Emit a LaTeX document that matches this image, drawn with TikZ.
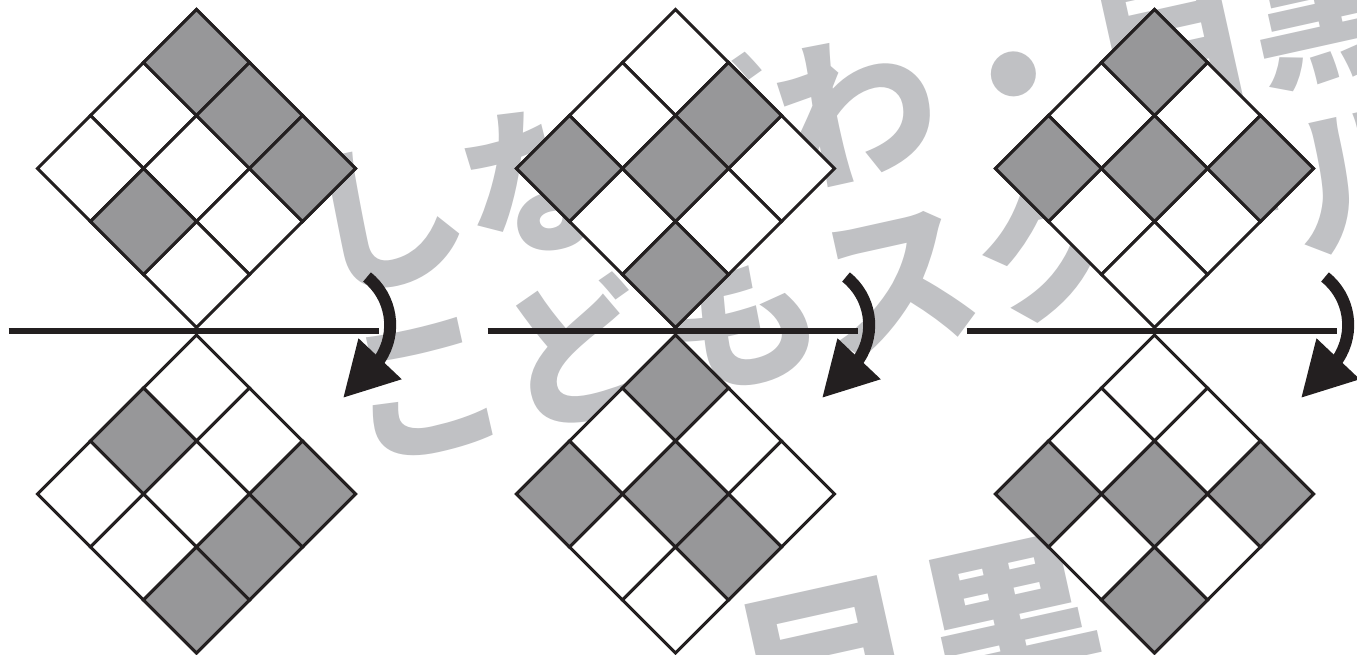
\documentclass[tikz,border=0pt]{standalone}
\usepackage{fontspec}
\usepackage{xcolor}
\usetikzlibrary{arrows.meta}
\newfontfamily\wmfont{Noto Sans CJK JP}
\definecolor{cellgray}{RGB}{151,151,153}
\definecolor{inkblack}{RGB}{35,31,32}
\definecolor{markgray}{RGB}{192,193,196}
\newcommand{\cellside}{74.95}
\tikzset{
  cellbox/.style={draw=inkblack, line width=3pt, line join=miter},
  whitecell/.style={cellbox, fill=white},
  graycell/.style={cellbox, fill=cellgray},
  axisline/.style={draw=inkblack, line width=5.5pt},
  fliparrow/.style={-{Triangle[length=54pt, width=56pt]}, line width=12pt, color=inkblack},
  watermark/.style={text=markgray, inner sep=0pt, rotate=12.5},
}
% 3x3 grid turned 45 degrees: #1,#2 = top corner, #3 = shaded cells row/col
\newcommand{\gridpiece}[3]{%
  \begin{scope}[shift={(#1,#2)}, rotate=-45]
    \foreach \r in {0,1,2}
      \foreach \c in {0,1,2}
        \draw[whitecell] (\c*\cellside,-\r*\cellside) rectangle ++(\cellside,-\cellside);
    \foreach \r/\c in {#3}
      \draw[graycell] (\c*\cellside,-\r*\cellside) rectangle ++(\cellside,-\cellside);
  \end{scope}}

\begin{document}
\begin{tikzpicture}[x=1pt, y=1pt]

  \path[use as bounding box, fill=white] (0,0) rectangle (1357,654);

  %% watermark behind everything
  \node[watermark, font=\wmfont\bfseries\fontsize{161pt}{161pt}\selectfont]
    (markA) at (856,546) {しながわ・目黒};
  \node[watermark, font=\wmfont\bfseries\fontsize{161pt}{161pt}\selectfont]
    (markB) at (896,376) {こどもスクール};
  \node[watermark, font=\wmfont\bfseries\fontsize{185pt}{185pt}\selectfont]
    (markC) at (920,4) {目黒};

  %% upper grids
  \gridpiece{196.5}{644.5}{0/0,0/1,0/2,2/1}
  \gridpiece{675.5}{644.5}{0/1,2/0,1/1,2/2}
  \gridpiece{1154.5}{644.5}{0/0,2/0,1/1,0/2}

  %% lower grids (mirror images)
  \gridpiece{196.5}{319}{2/2,1/2,0/2,1/0}
  \gridpiece{675.5}{319}{1/2,2/0,1/1,0/0}
  \gridpiece{1154.5}{319}{2/2,2/0,1/1,0/2}

  %% fold lines and turn arrows
  \foreach \cx [count=\k] in {196.5,675.5,1154.5} {
    \coordinate (foldL\k) at (\cx-188,323);
    \coordinate (foldR\k) at (\cx+182,323);
    \draw[axisline] (foldL\k) -- (foldR\k);
    \coordinate (turnS\k) at (\cx+170.5,377);
    \coordinate (turnE\k) at (\cx+146.5,256);
    \draw[fliparrow] (turnS\k) arc[start angle=51.5, end angle=-33.5, radius=61.4]
      -- (turnE\k);
  }

\end{tikzpicture}
\end{document}
